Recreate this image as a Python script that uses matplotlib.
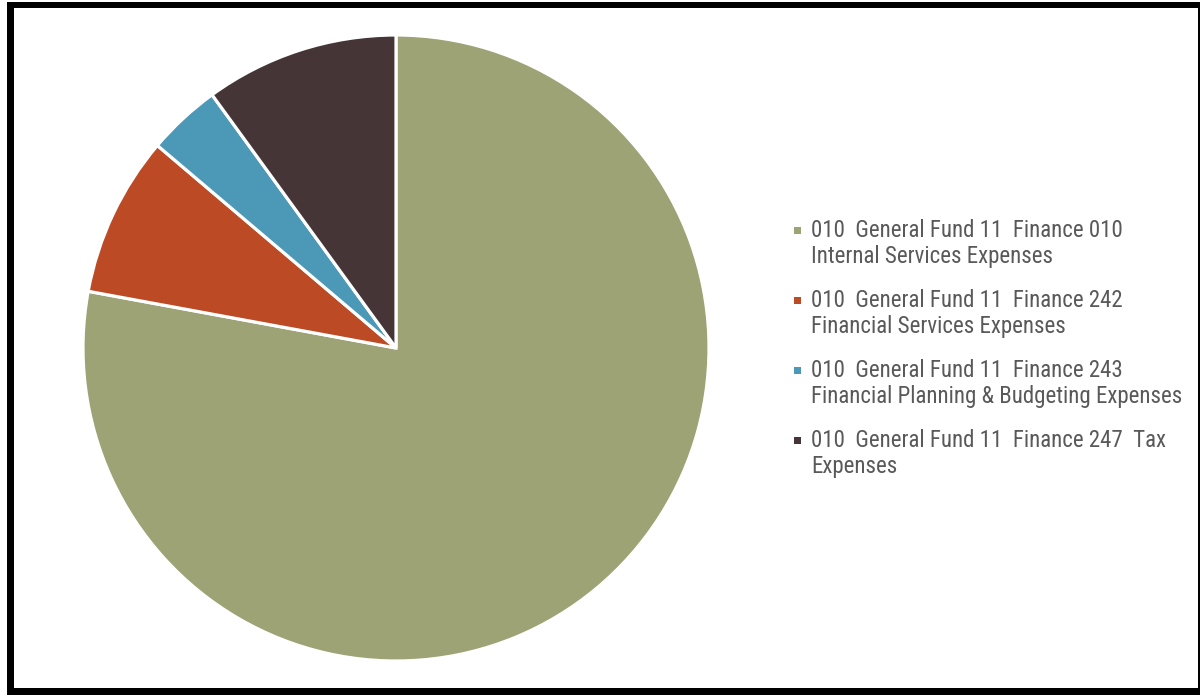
import matplotlib.pyplot as plt
from matplotlib.patches import Rectangle

labels = [
    "010  General Fund 11  Finance 010\nInternal Services Expenses",
    "010  General Fund 11  Finance 242\nFinancial Services Expenses",
    "010  General Fund 11  Finance 243\nFinancial Planning & Budgeting Expenses",
    "010  General Fund 11  Finance 247  Tax\nExpenses",
]
shares = [77.9, 8.3, 3.8, 10.0]
colors = ["#9da375", "#bc4b25", "#4b98b7", "#453536"]

W, H = 1201, 695
fig = plt.figure(figsize=(W / 100, H / 100), dpi=100)

# frame round the chart: heavy on left and bottom, thin on right
fig.add_artist(Rectangle((7 / W, 0), (1200 - 7) / W, (H - 2) / H, zorder=-10,
                         transform=fig.transFigure, facecolor="black", edgecolor="none"))
fig.add_artist(Rectangle((14 / W, 7 / H), (1198 - 14) / W, (H - 8 - 7) / H, zorder=-9,
                         transform=fig.transFigure, facecolor="white", edgecolor="none"))

cx, cy, r = 396, 348, 313
ax = fig.add_axes([(cx - r) / W, (H - cy - r) / H, 2 * r / W, 2 * r / H])
ax.patch.set_visible(False)
ax.pie(shares, colors=colors, startangle=90, counterclock=False, radius=1,
       wedgeprops=dict(edgecolor="white", linewidth=2.3))
ax.set_xlim(-1, 1)
ax.set_ylim(-1, 1)
ax.set_aspect("equal")
ax.axis("off")

# legend drawn by hand so the marker sits on the first line
for i, (lab, c) in enumerate(zip(labels, colors)):
    y = 230 + 70 * i
    fig.add_artist(Rectangle((794 / W, (H - y - 4) / H), 7 / W, 7 / H,
                             transform=fig.transFigure, facecolor=c, edgecolor="none"))
    fig.text(811 / W, (H - y + 11) / H, lab, ha="left", va="top",
             fontsize=16.5, color="#595959", linespacing=1.17,
             family=["Roboto Condensed", "DejaVu Sans"])

fig.savefig("out.png", dpi=100)
